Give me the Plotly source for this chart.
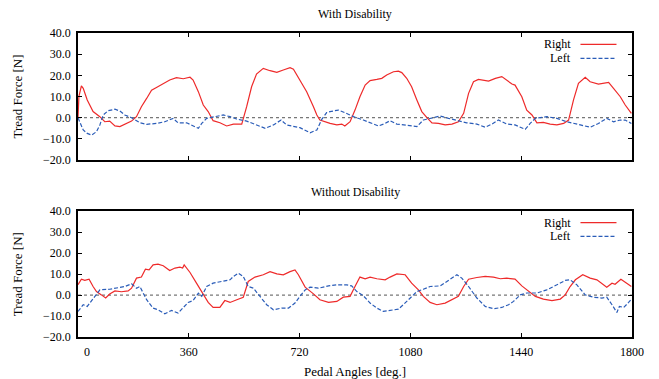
import plotly.graph_objects as go

# ---------------- data ----------------
top_right_deg = [0, 3, 11, 17, 30, 49, 71, 87, 103, 120, 136, 152, 174, 190, 206, 223, 239, 255, 277, 298, 320, 342, 364, 374, 391, 407, 423, 439, 461, 483, 505, 532, 548, 564, 580, 602, 624, 646, 667, 689, 700, 721, 743, 765, 776, 786, 808,
                 819, 841, 857, 867, 884, 900, 916, 933, 949, 971, 987, 1003, 1025, 1041, 1052, 1068, 1084, 1101, 1117, 1133, 1150, 1171, 1193, 1215, 1236, 1253, 1269, 1285, 1301, 1334, 1356, 1377, 1393, 1410, 1420, 1442, 1458, 1475, 1491, 1512, 1534, 1556, 1578, 1594, 1610, 1626, 1648, 1664, 1691, 1724, 1740, 1762, 1778, 1798]
top_right_val = [0, 10.1, 15.0, 13.9, 8.4, 2.9, 0.5, -1.9, -1.6, -3.9, -4.2, -3.0, -1.6, 0.5, 5.2, 9.1, 13.0, 14.3, 16.2, 17.8, 18.9, 18.4, 19.1, 17.8, 12.3, 6.0, 2.9, -1.4, -2.4, -3.9, -3.0, -3.0, 5.2, 14.6, 20.6, 23.3, 22.2, 21.4, 22.5, 23.6, 22.9, 17.8, 12.3, 5.2, 1.3, -1.1, -2.4,
                 -2.7, -3.4, -3.0, -3.9, -1.9, 3.6, 9.9, 15.4, 17.5, 18.1, 18.6, 20.2, 21.7, 22.0, 21.3, 18.6, 14.6, 8.4, 2.9, 0.2, -2.4, -2.7, -3.4, -3.0, -1.9, 2.1, 11.5, 17.0, 18.1, 17.3, 18.6, 19.4, 17.8, 15.9, 15.4, 9.9, 3.6, 1.3, -2.4, -2.2, -3.0, -3.4, -2.7, -1.1, 8.4, 16.2, 19.1, 17.0, 15.9, 16.7, 13.9, 9.9, 6.0, 2.1]

top_left_deg = [0, 3, 17, 30, 44, 60, 71, 82, 98, 120, 136, 152, 174, 201, 223, 255, 282, 309, 325, 353, 374, 391, 402, 418, 445, 472, 494, 515, 548, 580, 608, 635, 660, 678, 700, 721, 754, 776, 792, 808,
                819, 846, 867, 895, 927, 976, 998, 1014, 1036, 1074, 1101, 1122, 1150, 1177, 1204, 1231, 1263, 1296, 1323, 1345, 1366, 1393, 1420, 1453, 1469, 1486, 1523, 1556, 1588, 1632, 1664, 1691, 1718, 1740, 1762, 1778, 1798]
top_left_val = [0, -1.1, -5.8, -7.4, -8.2, -6.6, -3.4, 1.3, 3.3, 4.0, 3.2, 1.3, 0.0, -2.4, -3.1, -2.7, -1.9, -0.3, -2.4, -2.4, -3.9, -5.0, -2.7, -0.3, 0.5, 1.3, 0.5, -0.6, -1.6, -3.4, -5.0, -3.4, -1.1, -3.4, -3.9, -4.7, -7.1, -5.8, -0.8, 2.4,
                2.9, 3.6, 2.4, 0.5, -1.1, -3.9, -2.7, -1.4, -3.0, -3.9, -4.2, -1.1, -0.3, 0.8, -0.3, -1.4, -2.4, -3.0, -4.5, -3.0, -1.1, -3.0, -3.4, -5.5, -2.7, -0.3, 0.5, -0.3, -1.9, -3.4, -4.5, -2.7, -0.3, -1.9, -1.1, -1.1, -2.7]

bot_right_deg = [0, 3, 11, 22, 36, 49, 60, 76, 90, 103, 120, 141, 163, 174, 190, 206, 219, 231, 244, 260, 277, 298, 315, 331, 340, 345, 364, 385, 407, 423, 439, 461, 477, 494, 516, 537, 553, 575, 602, 624, 646, 667, 689, 705, 716, 738, 765, 786, 814,
                 841, 862, 884, 900, 916, 933, 949, 971, 998, 1014, 1036, 1063, 1084, 1106, 1122, 1144, 1166, 1193, 1220, 1236, 1253, 1269, 1296, 1323, 1350, 1372, 1393, 1420, 1442, 1464, 1486, 1512, 1540, 1567, 1583, 1599, 1616, 1640, 1664, 1686, 1718, 1735, 1745, 1764, 1784, 1798]
bot_right_val = [5.0, 5.7, 7.6, 7.0, 7.6, 4.1, 1.7, 0.1, -1.4, 0.5, 2.0, 1.6, 2.0, 3.3, 8.1, 8.6, 12.4, 12.0, 14.4, 14.8, 14.0, 11.7, 12.9, 13.3, 12.9, 14.4, 10.8, 5.7, 0.1, -3.5, -5.9, -5.9, -2.6, -3.5, -2.2, -1.0, 6.5, 8.6, 9.7, 11.2, 10.1, 9.7, 11.2, 12.0, 9.7, 3.8, 0.6, -2.2, -3.5,
                 -3.0, -1.0, -0.6, 4.1, 8.6, 7.8, 8.6, 7.8, 7.3, 8.6, 10.1, 9.7, 5.7, 2.5, -0.6, -3.5, -4.6, -3.8, -1.9, -0.6, 4.1, 7.6, 8.4, 8.9, 8.6, 7.8, 8.1, 7.6, 4.4, 2.0, -0.6, -1.9, -2.6, -1.9, 0.1, 4.1, 7.3, 9.7, 8.1, 7.3, 3.8, 5.7, 5.2, 7.6, 5.7, 4.1]

bot_left_deg = [0, 17, 30, 44, 60, 71, 103, 125, 152, 174, 190, 201, 223, 244, 260, 282, 304, 325, 342, 358, 374, 391, 402, 418, 439, 467, 494, 505, 521, 537, 553, 570, 591, 613, 635, 662, 684, 705, 721, 738, 754, 781, 814,
                841, 873, 889, 906, 927, 949, 971, 992, 1019, 1041, 1057, 1079, 1101, 1122, 1144, 1177, 1198, 1218, 1231, 1247, 1269, 1296, 1323, 1350, 1377, 1399, 1415, 1437, 1458, 1491, 1523, 1556, 1583, 1599, 1621, 1648, 1675, 1702, 1718, 1735, 1751, 1759, 1773, 1789, 1798]
bot_left_val = [-7.8, -4.6, -5.4, -2.6, 0.9, 2.5, 2.8, 3.3, 4.1, 5.4, 3.3, 4.1, -2.2, -6.2, -7.0, -8.9, -7.3, -8.6, -6.2, -3.5, -2.6, 0.9, -0.6, 4.1, 5.7, 6.5, 7.3, 8.9, 10.5, 8.9, 4.1, 3.3, -0.6, -4.6, -7.0, -6.2, -6.2, -3.8, -0.6, 2.5, 3.8, 3.3, 4.4,
                4.9, 4.9, 4.4, 1.7, -0.3, -3.8, -6.2, -7.8, -7.0, -6.7, -4.6, -1.4, 1.7, 2.8, 4.1, 4.4, 6.5, 8.6, 9.7, 8.1, 4.1, -1.4, -5.4, -6.5, -5.9, -4.6, -3.0, 0.1, 1.0, 1.0, 2.5, 4.9, 7.0, 7.3, 4.9, 0.1, -1.0, -1.4, -1.0, -4.6, -8.3, -5.4, -5.9, -3.5, -1.9]

x_ticks = [0, 360, 720, 1080, 1440, 1800]
x_tick_labels = ["\u00a0" * 6 + "0", "360", "720", "1080", "1440", "1800"]
y_ticks = [-20, -10, 0, 10, 20, 30, 40]
titles = ["With Disability", "Without Disability"]
series_names = ["Right", "Left"]

# ---------------- styling ----------------
RED = "#ee2a2a"
BLUE = "#2a5cb8"
FONT = "Liberation Serif"

fig = go.Figure()

panels = [
    ("x", "y", top_right_deg, top_right_val, top_left_deg, top_left_val),
    ("x2", "y2", bot_right_deg, bot_right_val, bot_left_deg, bot_left_val),
]
for xa, ya, rd, rv, ld, lv in panels:
    fig.add_trace(go.Scatter(x=rd, y=rv, mode="lines", xaxis=xa, yaxis=ya, showlegend=False,
                             line=dict(color=RED, width=1.2), name=series_names[0]))
    fig.add_trace(go.Scatter(x=ld, y=lv, mode="lines", xaxis=xa, yaxis=ya, showlegend=False,
                             line=dict(color=BLUE, width=1.2, dash="4px,2px"), name=series_names[1]))

axis_common = dict(showline=True, linecolor="black", linewidth=1.5, mirror="ticks",
                   ticks="inside", ticklen=4, tickcolor="black", showgrid=False, zeroline=False,
                   ticklabelstandoff=3,
                   tickfont=dict(family=FONT, size=12, color="black"))

ytitle = dict(text="Tread Force [N]", font=dict(family=FONT, size=13, color="black"), standoff=18)

fig.update_layout(
    width=659, height=379,
    margin=dict(l=78, r=27, t=33, b=42, autoexpand=False),
    paper_bgcolor="white", plot_bgcolor="white",
    showlegend=False,
    xaxis=dict(domain=[0, 1], anchor="y", range=[0, 1800], tickvals=x_ticks, showticklabels=False, **axis_common),
    yaxis=dict(domain=[0.582, 1], anchor="x", range=[-20, 40], tickvals=y_ticks, tickformat=".1f",
               title=ytitle, **axis_common),
    xaxis2=dict(domain=[0, 1], anchor="y2", range=[0, 1800], tickvals=x_ticks, ticktext=x_tick_labels,
                title=dict(text="Pedal Angles [deg.]", font=dict(family=FONT, size=13, color="black"), standoff=9),
                **axis_common),
    yaxis2=dict(domain=[0, 0.4135], anchor="x2", range=[-20, 40], tickvals=y_ticks, tickformat=".1f",
                title=ytitle, **axis_common),
)

# dotted zero lines
for xa, ya in [("x", "y"), ("x2", "y2")]:
    fig.add_shape(type="line", xref=f"{xa} domain", yref=ya, x0=0, x1=1, y0=0, y1=0,
                  line=dict(color="#555555", width=1, dash="dot"), layer="below")

# panel titles
for t, ydom in zip(titles, [1.0, 0.4135]):
    fig.add_annotation(text=t, xref="paper", yref="paper", x=0.5, y=ydom, yshift=10,
                       showarrow=False, yanchor="bottom", font=dict(family=FONT, size=12, color="black"))

# legends (text left of line, like gnuplot)
for xa, ya in [("x", "y"), ("x2", "y2")]:
    for j, (name, col, dash) in enumerate([(series_names[0], RED, "solid"), (series_names[1], BLUE, "4px,2px")]):
        yy = 0.91 - j * 0.11
        fig.add_annotation(text=name, xref=f"{xa} domain", yref=f"{ya} domain", x=0.892, y=yy,
                           xanchor="right", yanchor="middle", showarrow=False,
                           borderpad=0, font=dict(family=FONT, size=12, color="black"))
        fig.add_shape(type="line", xref=f"{xa} domain", yref=f"{ya} domain", x0=0.907, x1=0.972,
                      y0=yy, y1=yy, line=dict(color=col, width=1.2, dash=dash))

fig.write_html("out.html", config={"displayModeBar": False},
               post_script="document.body.style.margin='0';")
